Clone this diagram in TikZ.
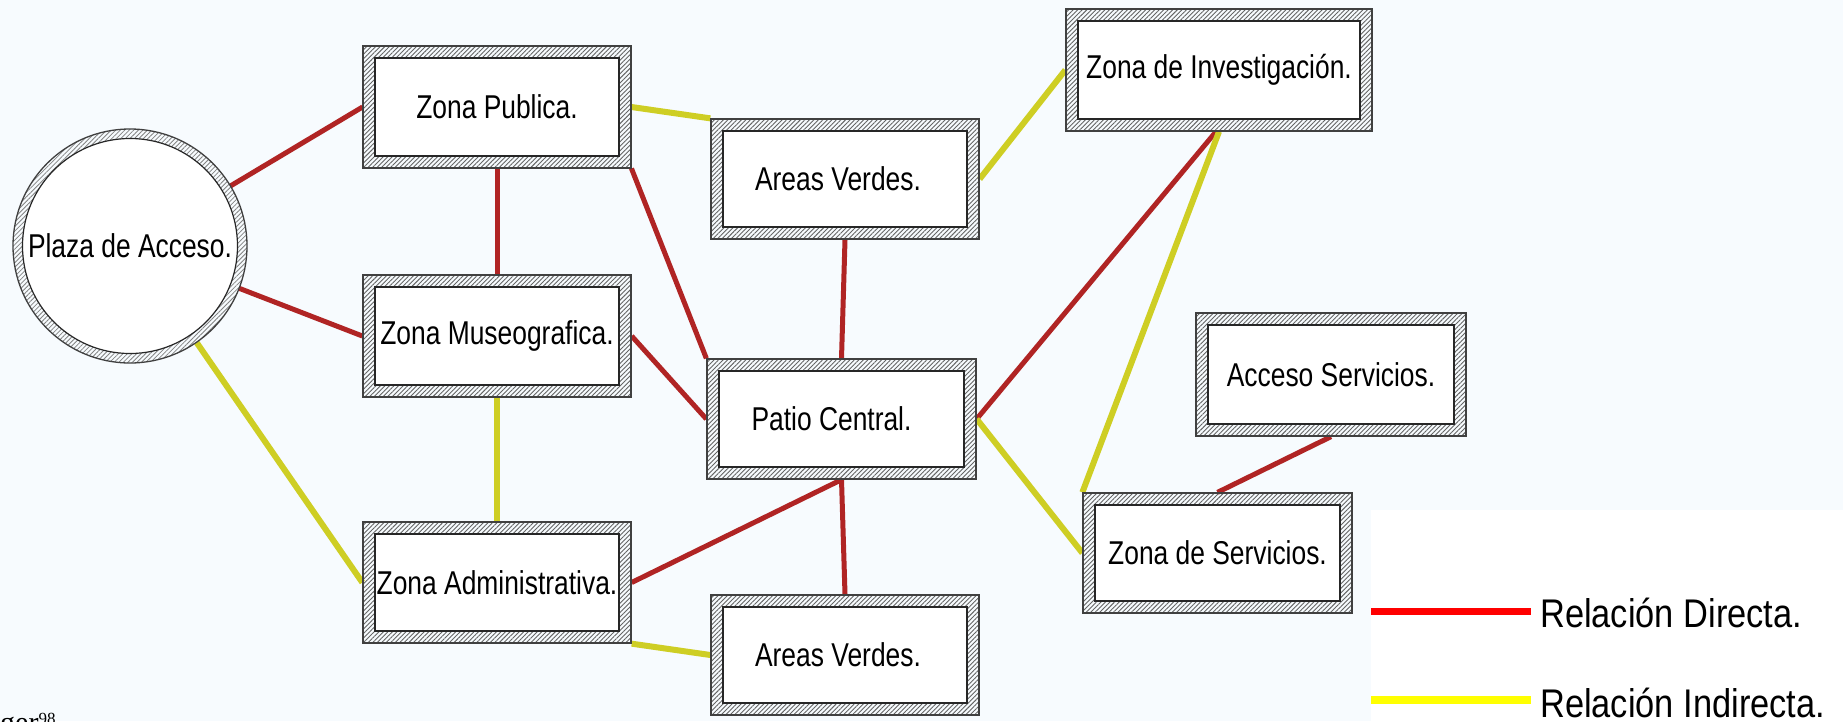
\documentclass[tikz,border=0pt]{standalone}
\usepackage{fontspec}
\setmainfont{Liberation Sans}
\newfontfamily\serifft{Liberation Serif}
\usetikzlibrary{patterns.meta,backgrounds}
\definecolor{bgc}{RGB}{247,251,254}
\definecolor{dred}{RGB}{176,36,36}
\definecolor{dyel}{RGB}{206,206,36}
\definecolor{hatchc}{RGB}{100,100,100}
\definecolor{lred}{RGB}{255,0,0}
\definecolor{lyel}{RGB}{255,255,0}
\newcommand{\bt}[1]{\scalebox{0.8}[1]{#1}}
\tikzset{
  zbox/.style={rectangle, draw=black!75, line width=1.3pt, inner sep=0pt,
    pattern={Lines[angle=45,distance=3.2pt,line width=0.9pt]}, pattern color=hatchc,
    font=\fontsize{33}{38}\selectfont,
    path picture={
      \fill[white,draw=black!85,line width=1.2pt]
        ([shift={(12pt,-12pt)}]path picture bounding box.north west) rectangle
        ([shift={(-12pt,12pt)}]path picture bounding box.south east);
    }},
  zring/.style={circle, draw=black!75, line width=1.3pt, inner sep=0pt,
    minimum size=234pt,
    pattern={Lines[angle=45,distance=3.2pt,line width=0.8pt]}, pattern color=hatchc!80,
    font=\fontsize{33}{38}\selectfont,
    path picture={
      \fill[white,draw=black!85,line width=1.2pt]
        (path picture bounding box.center) circle[radius=107.5pt];
    }},
  redline/.style={draw=dred, line width=5pt},
  yelline/.style={draw=dyel, line width=6pt},
  legtext/.style={inner sep=0pt, anchor=base west, font=\fontsize{40}{44}\selectfont}
}
\begin{document}
\begin{tikzpicture}[x=1pt,y=-1pt]
\useasboundingbox (0,0) rectangle (1843,721);
% nodes
\node[zring] (pa) at (130,246) {\bt{Plaza de Acceso.}};
\node[zbox, minimum width=268pt, minimum height=122pt] (zp) at (497,107) {\bt{Zona Publica.}};
\node[zbox, minimum width=268pt, minimum height=122pt] (zm) at (497,336) {\bt{Zona Museografica.}};
\node[zbox, minimum width=268pt, minimum height=121pt] (za) at (497,582.5) {\bt{Zona Administrativa.}};
\node[zbox, minimum width=268pt, minimum height=120pt] (avt) at (845,179) {\hspace*{-14pt}\bt{Areas Verdes.}};
\node[zbox, minimum width=269pt, minimum height=120pt] (pc) at (841.5,419) {\hspace*{-20pt}\bt{Patio Central.}};
\node[zbox, minimum width=268pt, minimum height=120pt] (avb) at (845,655) {\hspace*{-14pt}\bt{Areas Verdes.}};
\node[zbox, minimum width=306pt, minimum height=122pt] (zi) at (1219,70) {\bt{Zona de Investigación.}};
\node[zbox, minimum width=270pt, minimum height=123pt] (as) at (1331,374.5) {\bt{Acceso Servicios.}};
\node[zbox, minimum width=269pt, minimum height=120pt] (zs) at (1217.5,553) {\bt{Zona de Servicios.}};
% legend
\coordinate (r1) at (1371,611);
\coordinate (r2) at (1531,611);
\coordinate (y1) at (1371,700);
\coordinate (y2) at (1531,700);
\node[legtext] (ld) at (1540,627) {\scalebox{0.86}[1]{Relación Directa.}};
\node[legtext] (li) at (1540,717) {\scalebox{0.86}[1]{Relación Indirecta.}};
% footnote remnant
\node[inner sep=0pt, anchor=base west, font=\serifft\fontsize{30}{32}\selectfont] (fn) at (0,732)
  {ger\raisebox{7.5pt}{\fontsize{17}{20}\selectfont 98}};
\begin{scope}[on background layer]
  \fill[bgc] (0,0) rectangle (1843,721);
  \fill[white] (1371,510) rectangle (1843,721);
  \draw[lred, line width=7pt] (r1) -- (r2);
  \draw[lyel, line width=8pt] (y1) -- (y2);
  % connectors
  \draw[redline] (pa) -- (zp.west);
  \draw[redline] (pa) -- (zm.west);
  \draw[yelline] (pa) -- (za.west);
  \draw[redline] (zp.south) -- (zm.north);
  \draw[yelline] (zp.east) -- (avt.north west);
  \draw[redline] (zp.south east) -- (pc.north west);
  \draw[redline] (zm.east) -- (pc.west);
  \draw[yelline] (zm.south) -- (za.north);
  \draw[redline] (avt.south) -- (pc.north);
  \draw[yelline] (avt.east) -- (zi.west);
  \draw[redline] (pc.east) -- ([xshift=-3pt]zi.south);
  \draw[yelline] (pc.east) -- (zs.west);
  \draw[yelline] (zi.south) -- (zs.north west);
  \draw[redline] (as.south) -- (zs.north);
  \draw[redline] (pc.south) -- (za.east);
  \draw[redline] (pc.south) -- (avb.north);
  \draw[yelline] (za.south east) -- (avb.west);
\end{scope}
\end{tikzpicture}
\end{document}
